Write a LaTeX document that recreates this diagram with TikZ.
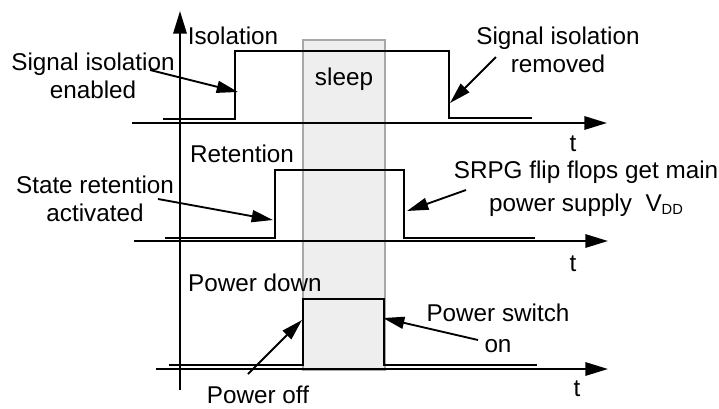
\documentclass[tikz,border=0pt]{standalone}
\usepackage{fontspec}
\setmainfont{Liberation Sans}
\usepackage{xcolor}
\definecolor{sleepfill}{HTML}{EEEEEE}
\definecolor{sleepedge}{HTML}{A8A8A8}
\usepackage{tikz}
\usetikzlibrary{arrows.meta, positioning}

\begin{document}
\begin{tikzpicture}[
  x=0.75pt, y=-0.75pt,
  lbl/.style={font=\fontsize{18.2}{21}\selectfont, align=center, inner sep=0pt},
  axis/.style={-{Triangle[length=17pt, width=10pt]}, line width=1.6pt},
  sig/.style={line width=1.6pt},
  note/.style={-{Triangle[length=16pt, width=9pt]}, line width=1.4pt}
]
\useasboundingbox (0,0) rectangle (719,408);

% sleep window
\draw[fill=sleepfill, draw=sleepedge, line width=0.8pt] (303,40) rectangle (385,370);
\node[lbl] (sleep) at (344,79) {sleep};

% axes
\coordinate (yBot) at (180,390);
\coordinate (yTop) at (180,11);
\draw[axis] (yBot) -- (yTop);
\coordinate (isoL) at (132,123);   \coordinate (isoR) at (607,123);
\coordinate (retL) at (134,241);   \coordinate (retR) at (608,241);
\coordinate (pwrL) at (156,369);   \coordinate (pwrR) at (608,369);
\draw[axis] (isoL) -- (isoR);
\draw[axis] (retL) -- (retR);
\draw[axis] (pwrL) -- (pwrR);
\node[lbl] (tIso) at (573,144) {t};
\node[lbl] (tRet) at (573,264) {t};
\node[lbl] (tPwr) at (577,389) {t};

% signals
\draw[sig] (163,119) -- (235,119) -- (235,51) -- (449,51) -- (449,118) -- (532,118);
\draw[sig] (165,238) -- (275,238) -- (275,170) -- (404,170) -- (404,238) -- (535,238);
\draw[sig] (169,365) -- (303,365) -- (303,299) -- (384,299) -- (384,365) -- (537,365);

% signal names
\node[lbl] (isolation) at (233,36) {Isolation};
\node[lbl] (retention) at (242,154) {Retention};
\node[lbl] (powerdown) at (255,283) {Power down};

% annotations
\node[lbl] (isoOn) at (93,76) {Signal isolation\\enabled};
\node[lbl] (isoOff) at (558,50) {Signal isolation\\removed};
\node[lbl] (retOn) at (95,199) {State retention\\activated};
\node[lbl] (retOff) at (586,189)
  {SRPG flip flops get main\\[4pt]power supply\ \ V{\fontsize{11}{11}\selectfont\raisebox{-0.35ex}{DD}}};
\node[lbl] (pwrOff) at (258,395) {Power off};
\node[lbl] (pwrOn) at (498,328) {Power switch\\[2pt]on};

\coordinate (isoOnTail) at (150,70);   \coordinate (isoOnTip) at (238,92);
\coordinate (isoOffTail) at (496,57);  \coordinate (isoOffTip) at (450,103);
\coordinate (retOnTail) at (158,199);  \coordinate (retOnTip) at (273,220);
\coordinate (retOffTail) at (466,190); \coordinate (retOffTip) at (407,211);
\coordinate (pwrOffTail) at (248,374); \coordinate (pwrOffTip) at (302,320);
\coordinate (pwrOnTail) at (478,340);  \coordinate (pwrOnTip) at (383,318);

\draw[note] (isoOnTail) -- (isoOnTip);
\draw[note] (isoOffTail) -- (isoOffTip);
\draw[note] (retOnTail) -- (retOnTip);
\draw[note] (retOffTail) -- (retOffTip);
\draw[note] (pwrOffTail) -- (pwrOffTip);
\draw[note] (pwrOnTail) -- (pwrOnTip);

\end{tikzpicture}
\end{document}
